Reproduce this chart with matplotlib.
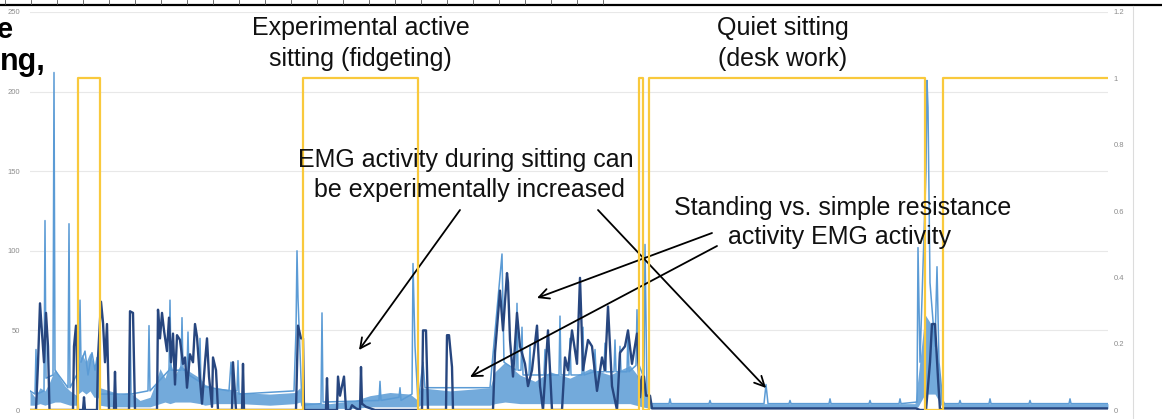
import matplotlib.pyplot as plt

W, H = 1162, 419

# yellow posture trace (1 = sitting), secondary axis
phase_t = [0, 47.7, 70, 272.5, 388, 609, 613, 619, 895, 913, 1078]
phase_v = [0, 1, 0, 1, 0, 1, 0, 1, 0, 1, 1]

# light blue EMG: dense band (low/high envelope) + spikes
band_t = [0, 5, 10, 15, 20, 25, 30, 35, 40, 47, 48, 52, 56, 60, 64, 68, 70,
          80, 90, 100, 110, 120, 125, 130, 135, 140, 145, 150, 160, 170, 175,
          185, 200, 210, 240, 265, 270, 272, 300, 325, 340, 360, 380, 388,
          390, 420, 440, 460, 465, 475, 490, 505, 520, 540, 560, 580, 600,
          612, 620, 885, 888, 895, 905, 912, 915, 1078]
band_lo = [3, 3, 4, 3, 4, 5, 5, 4, 3, 3, 10, 12, 10, 12, 8, 8, 3,
           2, 2, 2, 2, 2, 3, 4, 5, 4, 5, 5, 5, 4, 3,
           4, 4, 4, 3, 4, 5, 1, 1, 1, 2, 2, 2, 2,
           3, 3, 3, 3, 4, 5, 4, 4, 4, 4, 4, 4, 4,
           2, 1, 1, 2, 10, 10, 2, 1, 1]
band_hi = [12, 8, 14, 12, 18, 26, 20, 15, 12, 9, 28, 35, 30, 36, 28, 32, 14,
           12, 10, 11, 6, 8, 16, 26, 20, 30, 22, 28, 24, 20, 16,
           14, 13, 11, 10, 11, 14, 5, 4, 6, 9, 11, 10, 6,
           14, 12, 13, 14, 24, 30, 22, 18, 24, 20, 26, 22, 28,
           18, 4, 4, 20, 60, 50, 8, 4, 4]

light_t = [0, 5, 6, 7, 14, 15, 16, 23, 24, 25, 38, 39, 40, 49, 50, 51, 55, 58,
           62, 65, 67, 70, 99, 100, 101, 118, 119, 120, 139, 140, 141, 151, 152,
           153, 157, 158, 159, 169, 170, 171, 199, 201, 203, 207, 208, 209, 264,
           266, 267, 268, 271, 272, 291, 292, 293, 349, 350, 351, 369, 370, 371,
           382, 383, 385, 388, 390, 393, 395, 460, 472, 474, 486, 487, 488, 491,
           492, 493, 499, 500, 501, 514, 515, 516, 529, 530, 531, 539, 540, 541,
           552, 553, 554, 564, 565, 566, 574, 575, 576, 584, 585, 586, 589, 590,
           591, 597, 598, 599, 606, 607, 608, 614, 615, 617, 620,
           639, 640, 641, 679, 680, 681, 734, 736, 738, 759, 760, 761,
           799, 800, 801, 839, 840, 841, 869, 870, 871, 887, 888, 890,
           896, 897, 898, 900, 905, 907, 909, 913,
           929, 930, 931, 959, 960, 961, 999, 1000, 1001, 1039, 1040, 1041, 1078]
light_v = [12, 10, 38, 10, 12, 119, 20, 22, 212, 25, 14, 117, 14, 25, 69, 30, 37, 22,
           36, 25, 33, 10, 10, 62, 10, 12, 53, 12, 25, 69, 25, 25, 58,
           25, 25, 49, 22, 18, 45, 15, 12, 30, 12, 12, 31, 10, 12,
           50, 100, 70, 20, 3, 4, 61, 5, 6, 18, 6, 8, 14, 6,
           10, 92, 40, 5, 14, 30, 14, 14, 98, 30, 25, 67, 25, 25,
           52, 22, 22, 40, 22, 22, 38, 22, 22, 59, 22, 22, 45, 22,
           22, 52, 22, 24, 38, 24, 24, 42, 24, 24, 44, 24, 24, 40,
           24, 24, 50, 24, 28, 63, 30, 20, 104, 10, 4,
           4, 7, 4, 4, 6, 4, 4, 16, 4, 4, 6, 4,
           4, 7, 4, 4, 6, 4, 4, 7, 4, 5, 102, 30,
           150, 207, 190, 80, 40, 90, 30, 4,
           4, 6, 4, 4, 7, 4, 4, 6, 4, 4, 7, 4, 4]

# dark blue EMG trace
dark_t = [0, 6, 8, 10, 12, 14, 16, 18, 19.5, 43, 44, 46, 48, 53, 54, 55,
          67, 68, 71, 73, 75, 77, 79, 84, 85, 86, 99, 100, 103, 105,
          127, 128, 130, 132, 134, 137, 139, 141, 143, 145, 147, 150, 153, 155,
          157, 160, 163, 165, 167, 170, 172, 175, 177, 179, 182, 183, 186, 188,
          202, 203, 205, 206, 212, 213, 214, 266, 268, 271, 273, 274,
          296, 297, 298, 307, 308, 310, 314, 316, 320, 322, 326, 330, 331, 332,
          336, 345, 392, 393, 396, 398, 416, 417, 419, 422, 423,
          463, 465, 470, 473, 477, 478, 480, 483, 487, 490, 495, 498, 502, 507,
          510, 513, 518, 522, 532, 535, 538, 542, 547, 550, 553, 558, 562, 567,
          572, 575, 578, 582, 587, 590, 595, 598, 602, 607, 610, 612, 614, 616,
          620, 622, 886, 890, 896, 900, 902, 905, 908, 910, 914, 1078]
dark_v = [0, 0, 29, 67, 48, 30, 61, 40, 0, 0, 40, 53, 0, 0, 8, 0,
          0, 33, 68, 55, 30, 54, 0, 0, 24, 0, 0, 62, 61, 0,
          0, 63, 45, 61, 50, 37, 58, 30, 48, 16, 47, 44, 29, 33,
          14, 35, 30, 54, 46, 19, 4, 30, 45, 21, 2, 33, 25, 0,
          0, 30, 10, 0, 0, 29, 0, 0, 53, 45, 45, 0,
          0, 20, 0, 0, 21, 9, 21, 0, 0, 3, 1, 0, 27, 4,
          2, 0, 0, 50, 50, 0, 0, 47, 47, 27, 0,
          0, 36, 75, 50, 86, 80, 44, 21, 61, 40, 29, 15, 25, 53,
          15, 0, 50, 0, 0, 33, 25, 50, 29, 83, 25, 44, 40, 12,
          33, 25, 65, 15, 0, 36, 40, 50, 29, 48, 8, 21, 21, 9,
          9, 1, 1, 0, 0, 30, 54, 54, 20, 0, 1, 1]

left_ticks = [0, 50, 100, 150, 200, 250]
right_ticks = [0, 0.2, 0.4, 0.6, 0.8, 1, 1.2]
right_labels = ['0', '0.2', '0.4', '0.6', '0.8', '1', '1.2']

light = '#5b9bd5'
dark = '#27467f'
gold = '#f9c93c'

plt.rcParams['font.family'] = ['Liberation Sans', 'DejaVu Sans']

fig = plt.figure(figsize=(W / 100, H / 100), dpi=100)
ax = fig.add_axes([30 / W, (H - 410) / H, (1108 - 30) / W, (410 - 12) / H])
ax.set_xlim(0, 1078)
ax.set_ylim(0, 250)

ax.fill_between(band_t, band_lo, band_hi, color=light, lw=0, alpha=0.85)
ax.plot(light_t, light_v, color=light, lw=1.1)
ax.plot(dark_t, dark_v, color=dark, lw=1.7)

ax.set_yticks(left_ticks)
ax.set_xticks([])
ax.yaxis.grid(True, color='#e8e8e8', lw=0.8)
ax.set_axisbelow(True)
ax.tick_params(axis='y', length=0, pad=7, labelsize=5.5, labelcolor='#8c8c8c')
for s in ax.spines.values():
    s.set_visible(False)

ax2 = ax.twinx()
ax2.set_ylim(0, 1.2)
ax2.plot(phase_t, phase_v, color=gold, lw=1.6, drawstyle='steps-post')
ax2.set_yticks(right_ticks)
ax2.set_yticklabels(right_labels)
ax2.tick_params(axis='y', length=0, pad=4, labelsize=5.5, labelcolor='#8c8c8c')
for s in ax2.spines.values():
    s.set_visible(False)


def fx(x):
    return x / W


def fy(y):
    return 1 - y / H


# slide decorations: top ruler line and right border
fig.add_artist(plt.Line2D([0, 1], [fy(5), fy(5)], color='black', lw=1.6))
for xr in range(5, 610, 26):
    fig.add_artist(plt.Line2D([fx(xr), fx(xr)], [fy(0), fy(4)], color='#555555', lw=0.6))
fig.add_artist(plt.Line2D([fx(1133), fx(1133)], [fy(6), 0], color='#dcdcdc', lw=0.8))

# cut-off slide title
fig.text(fx(13), fy(38), 'e', ha='right', va='baseline', fontsize=21, fontweight='bold')
fig.text(fx(46), fy(70), 'ng,', ha='right', va='baseline', fontsize=22, fontweight='bold')

labels = [
    (360.5, 35, 'Experimental active'),
    (360.5, 66, 'sitting (fidgeting)'),
    (782.5, 35, 'Quiet sitting'),
    (782.5, 66, '(desk work)'),
    (465.5, 167, 'EMG activity during sitting can'),
    (469, 197, 'be experimentally increased'),
    (842.5, 215, 'Standing vs. simple resistance'),
    (839, 244, 'activity EMG activity'),
]
for x, y, s in labels:
    fig.text(fx(x), fy(y), s, ha='center', va='baseline', fontsize=18, color='#111111')

arrows = [
    ((460, 210), (359, 350)),
    ((598, 210), (766, 388)),
    ((712, 233), (537, 298)),
    ((717, 246), (470, 377)),
]
for (x0, y0), (x1, y1) in arrows:
    ax.annotate('', xy=(fx(x1), fy(y1)), xycoords='figure fraction',
                xytext=(fx(x0), fy(y0)), textcoords='figure fraction',
                arrowprops=dict(arrowstyle='->', color='black', lw=1.3,
                                mutation_scale=18, shrinkA=0, shrinkB=0))

fig.savefig('out.png', dpi=100)
